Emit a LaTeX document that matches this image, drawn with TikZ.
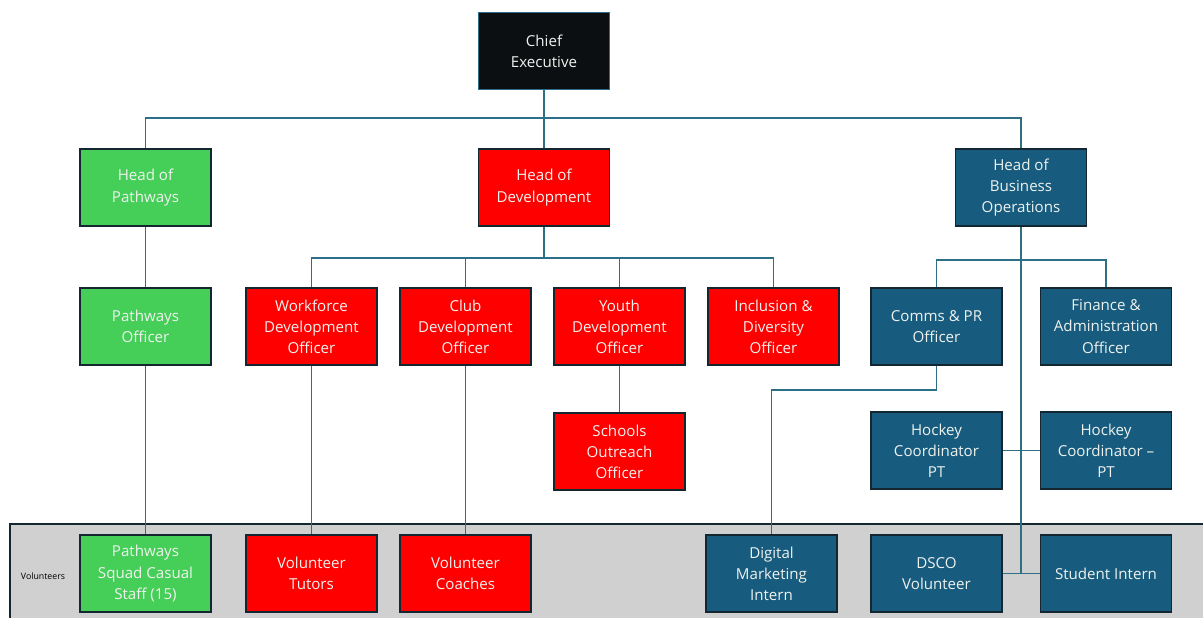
\documentclass[tikz,border=0pt]{standalone}
\usepackage{fontspec}
\setmainfont{Open Sans}
\definecolor{chiefblack}{HTML}{0C0F12}
\definecolor{pathgreen}{HTML}{46CF58}
\definecolor{devred}{HTML}{FF0000}
\definecolor{busblue}{HTML}{175B7E}
\definecolor{boxedge}{HTML}{14262F}
\definecolor{linkteal}{HTML}{2E6F88}
\definecolor{bandgray}{HTML}{D0D0D0}
\definecolor{boxtext}{HTML}{EEF2EE}
\begin{document}
\begin{tikzpicture}[x=0.02cm,y=-0.02cm,
    box/.style={draw=boxedge,line width=0.9pt,minimum width=2.62cm,minimum height=1.54cm,
      align=center,text=boxtext,inner sep=1pt,font=\fontsize{8.6}{12}\selectfont},
    chief/.style={box,fill=chiefblack,draw=linkteal},
    green/.style={box,fill=pathgreen},
    red/.style={box,fill=devred},
    blue/.style={box,fill=busblue},
    link/.style={draw=linkteal,line width=0.85pt}]
    \useasboundingbox (0,0) rectangle (1203,618);

    % volunteers band
    \fill[bandgray] (10,524) rectangle (1210,620);
    \draw[boxedge,line width=0.8pt] (10,620) -- (10,524) -- (1210,524);
    \node[text=black,font=\fontsize{5}{6}\selectfont] (vol) at (43,576) {Volunteers};

    % top
    \node[chief] (ce) at (544,51) {Chief\\Executive};

    % heads
    \node[green] (hpath) at (145.5,187.5) {Head of\\Pathways};
    \node[red] (hdev) at (544,187.5) {Head of\\Development};
    \node[blue] (hbus) at (1021,187.5) {Head of\\Business\\Operations};

    % officers
    \node[green] (po) at (145.5,326.5) {Pathways\\Officer};
    \node[red] (wdo) at (311.5,326.5) {Workforce\\Development\\Officer};
    \node[red] (cdo) at (465.5,326.5) {Club\\Development\\Officer};
    \node[red] (ydo) at (619.5,326.5) {Youth\\Development\\Officer};
    \node[red] (ido) at (773.5,326.5) {Inclusion \&\\Diversity\\Officer};
    \node[blue] (comms) at (936.5,326.5) {Comms \& PR\\Officer};
    \node[blue] (fin) at (1106,326.5) {Finance \&\\Administration\\Officer};

    % third row
    \node[red] (soo) at (619.5,451.5) {Schools\\Outreach\\Officer};
    \node[blue] (hc1) at (936.5,450.5) {Hockey\\Coordinator\\PT};
    \node[blue] (hc2) at (1106,450.5) {Hockey\\Coordinator --\\PT};

    % volunteers row
    \node[green] (pss) at (145.5,573.5) {Pathways\\Squad Casual\\Staff (15)};
    \node[red] (vt) at (311.5,573.5) {Volunteer\\Tutors};
    \node[red] (vc) at (465.5,573.5) {Volunteer\\Coaches};
    \node[blue] (dmi) at (771.5,573.5) {Digital\\Marketing\\Intern};
    \node[blue] (dsco) at (936.5,573.5) {DSCO\\Volunteer};
    \node[blue] (stu) at (1106,573.5) {Student Intern};

    % connectors
    \coordinate (cebar) at (544,118);
    \coordinate (devbar) at (544,258);
    \coordinate (busbar) at (1021,260);
    \draw[link] (ce.south) -- (cebar);
    \draw[link] (hpath.north) |- (cebar) -| (hbus.north);
    \draw[link] (cebar) -- (hdev.north);
    \draw[link] (hpath.south) -- (po.north);
    \draw[link] (po.south) -- (pss.north);
    \draw[link] (hdev.south) -- (devbar);
    \draw[link] (wdo.north) |- (devbar) -| (ido.north);
    \draw[link] (cdo.north) |- (devbar);
    \draw[link] (ydo.north) |- (devbar);
    \draw[link] (wdo.south) -- (vt.north);
    \draw[link] (cdo.south) -- (vc.north);
    \draw[link] (ydo.south) -- (soo.north);
    \draw[link] (hbus.south) -- (hbus.south |- stu.west);
    \draw[link] (comms.north) |- (busbar) -| (fin.north);
    \draw[link] (comms.south) -- ++(0,24) -| (dmi.north);
    \draw[link] (hc1.east) -- (hc2.west);
    \draw[link] (dsco.east) -- (stu.west);
\end{tikzpicture}
\end{document}
